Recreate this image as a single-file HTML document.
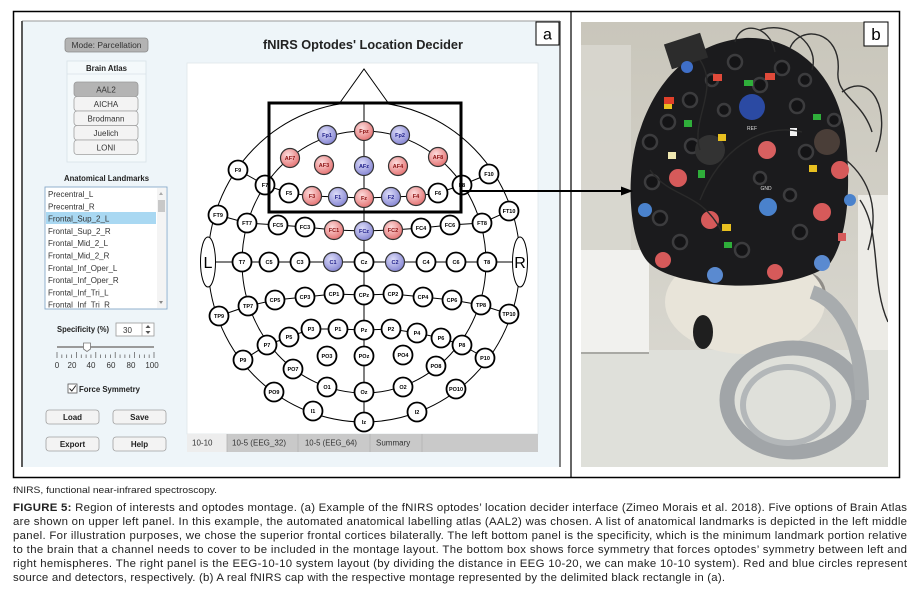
<!DOCTYPE html>
<html><head><meta charset="utf-8">
<style>
html,body{margin:0;padding:0;background:#fff;}
svg{display:block;}
text{font-family:"Liberation Sans",Arial,sans-serif;}
.w{fill:#fff;stroke:#000;stroke-width:1.8}
.r{fill:url(#gr);stroke:#333;stroke-width:1.2}
.b{fill:url(#gb);stroke:#333;stroke-width:1.2}
.nl{font-size:5.5px;font-weight:bold;text-anchor:middle;fill:#000}
.nr{font-size:5.5px;font-weight:bold;text-anchor:middle;fill:#8a1010}
.nb{font-size:5.5px;font-weight:bold;text-anchor:middle;fill:#1e1e88}
.ui{font-size:8px;fill:#333}
.uib{font-size:8px;fill:#222;font-weight:bold}
.ln{stroke:#000;stroke-width:1;fill:none}
.btn{fill:#f3f3f3;stroke:#a0a0a0;stroke-width:0.8}
.ring{fill:#141416;stroke:#3c3c3e;stroke-width:2.5}
.cab{stroke:#2a2a2a;stroke-width:1.4;fill:none}
</style></head><body>
<svg width="917" height="602" viewBox="0 0 917 602" xmlns="http://www.w3.org/2000/svg">
<defs>
<radialGradient id="gr" cx="0.4" cy="0.35" r="0.7"><stop offset="0" stop-color="#fcdcdc"/><stop offset="1" stop-color="#e46e6e"/></radialGradient>
<radialGradient id="gb" cx="0.4" cy="0.35" r="0.7"><stop offset="0" stop-color="#dcdcf8"/><stop offset="1" stop-color="#8282d2"/></radialGradient>
<linearGradient id="wall" x1="0" y1="0" x2="0" y2="1"><stop offset="0" stop-color="#c9c6bb"/><stop offset="0.5" stop-color="#d3d1c8"/><stop offset="1" stop-color="#dddcd6"/></linearGradient>
<clipPath id="photo"><rect x="581" y="22" width="307" height="445"/></clipPath>
<clipPath id="list"><rect x="46" y="188" width="120" height="120"/></clipPath>
</defs>

<rect x="13.5" y="11.5" width="886" height="466" fill="#fff" stroke="#000" stroke-width="1.5"/>
<line x1="571" y1="11" x2="571" y2="477" stroke="#000" stroke-width="1.2"/>

<rect x="22" y="21" width="538" height="446" fill="#eef5f9"/>
<line x1="22" y1="21" x2="560" y2="21" stroke="#9a9a9a" stroke-width="1"/>
<line x1="22" y1="21" x2="22" y2="467" stroke="#5a5a5a" stroke-width="2"/>
<line x1="560" y1="21" x2="560" y2="467" stroke="#5a5a5a" stroke-width="1.5"/>

<rect x="536" y="22" width="23" height="23" fill="#fff" stroke="#000" stroke-width="1"/>
<text x="547.5" y="39.5" font-size="16" text-anchor="middle" fill="#000">a</text>

<rect x="65" y="38" width="83" height="14" rx="3" fill="#b3b3b3" stroke="#8a8a8a" stroke-width="0.8"/>
<text x="106.5" y="48" class="ui" text-anchor="middle" textLength="70" lengthAdjust="spacingAndGlyphs">Mode: Parcellation</text>

<rect x="67" y="61" width="79" height="101" fill="#f4f9fb" stroke="#d8e2e8" stroke-width="0.8"/>
<text x="106.5" y="71" class="uib" text-anchor="middle" textLength="41" lengthAdjust="spacingAndGlyphs">Brain Atlas</text>
<line x1="67" y1="74" x2="146" y2="74" stroke="#d8e2e8" stroke-width="0.8"/>
<rect x="74" y="82" width="64" height="14.5" rx="3" fill="#b4b4b4" stroke="#999" stroke-width="0.8"/>
<text x="106" y="92.5" class="ui" text-anchor="middle">AAL2</text>
<rect x="74" y="96.5" width="64" height="14.5" rx="3" class="btn"/>
<text x="106" y="107" class="ui" text-anchor="middle">AICHA</text>
<rect x="74" y="111" width="64" height="14.5" rx="3" class="btn"/>
<text x="106" y="121.5" class="ui" text-anchor="middle">Brodmann</text>
<rect x="74" y="125.5" width="64" height="14.5" rx="3" class="btn"/>
<text x="106" y="136" class="ui" text-anchor="middle">Juelich</text>
<rect x="74" y="140" width="64" height="14.5" rx="3" class="btn"/>
<text x="106" y="150.5" class="ui" text-anchor="middle">LONI</text>

<text x="106.5" y="181" class="uib" text-anchor="middle" textLength="85" lengthAdjust="spacingAndGlyphs">Anatomical Landmarks</text>
<rect x="45" y="187" width="122" height="122" fill="#fff" stroke="#86a9c8" stroke-width="0.9"/>
<rect x="46" y="212" width="110" height="12" fill="#a9d8f2"/>
<g clip-path="url(#list)">
<text x="48" y="197" class="ui">Precentral_L</text>
<text x="48" y="209.3" class="ui">Precentral_R</text>
<text x="48" y="221.5" class="ui">Frontal_Sup_2_L</text>
<text x="48" y="233.8" class="ui">Frontal_Sup_2_R</text>
<text x="48" y="246.2" class="ui">Frontal_Mid_2_L</text>
<text x="48" y="258.5" class="ui">Frontal_Mid_2_R</text>
<text x="48" y="270.8" class="ui">Frontal_Inf_Oper_L</text>
<text x="48" y="283" class="ui">Frontal_Inf_Oper_R</text>
<text x="48" y="295.3" class="ui">Frontal_Inf_Tri_L</text>
<text x="48" y="307.6" class="ui">Frontal_Inf_Tri_R</text>
</g>
<rect x="157" y="188" width="9" height="120" fill="#f4f4f4"/>
<polygon points="159,195 163,195 161,192" fill="#aaa"/>
<rect x="158" y="200" width="7" height="12" fill="#c8c8c8"/>
<polygon points="159,301 163,301 161,304" fill="#888"/>

<text x="57" y="332" class="uib" textLength="52" lengthAdjust="spacingAndGlyphs">Specificity (%)</text>
<rect x="116" y="323" width="38" height="13" fill="#fff" stroke="#999" stroke-width="0.8"/>
<text x="123" y="333" class="ui">30</text>
<line x1="142" y1="323" x2="142" y2="336" stroke="#aaa" stroke-width="0.8"/>
<polygon points="145.5,328 150.5,328 148,325" fill="#555"/>
<polygon points="145.5,331 150.5,331 148,334" fill="#555"/>

<line x1="57" y1="347" x2="154" y2="347" stroke="#9a9a9a" stroke-width="2"/>
<polygon points="83.5,343 90.5,343 90.5,349 87,351.5 83.5,349" fill="#fff" stroke="#777" stroke-width="0.8"/>
<g stroke="#555" stroke-width="0.7">
<line x1="57" y1="352" x2="57" y2="358"/><line x1="61.85" y1="354.5" x2="61.85" y2="358"/><line x1="66.7" y1="354.5" x2="66.7" y2="358"/><line x1="71.55" y1="354.5" x2="71.55" y2="358"/>
<line x1="76.4" y1="352" x2="76.4" y2="358"/><line x1="81.25" y1="354.5" x2="81.25" y2="358"/><line x1="86.1" y1="354.5" x2="86.1" y2="358"/><line x1="90.95" y1="354.5" x2="90.95" y2="358"/>
<line x1="95.8" y1="352" x2="95.8" y2="358"/><line x1="100.65" y1="354.5" x2="100.65" y2="358"/><line x1="105.5" y1="354.5" x2="105.5" y2="358"/><line x1="110.35" y1="354.5" x2="110.35" y2="358"/>
<line x1="115.2" y1="352" x2="115.2" y2="358"/><line x1="120.05" y1="354.5" x2="120.05" y2="358"/><line x1="124.9" y1="354.5" x2="124.9" y2="358"/><line x1="129.75" y1="354.5" x2="129.75" y2="358"/>
<line x1="134.6" y1="352" x2="134.6" y2="358"/><line x1="139.45" y1="354.5" x2="139.45" y2="358"/><line x1="144.3" y1="354.5" x2="144.3" y2="358"/><line x1="149.15" y1="354.5" x2="149.15" y2="358"/>
<line x1="154" y1="352" x2="154" y2="358"/>
</g>
<text x="57" y="368" class="ui" text-anchor="middle">0</text>
<text x="72" y="368" class="ui" text-anchor="middle">20</text>
<text x="91" y="368" class="ui" text-anchor="middle">40</text>
<text x="111" y="368" class="ui" text-anchor="middle">60</text>
<text x="131" y="368" class="ui" text-anchor="middle">80</text>
<text x="152" y="368" class="ui" text-anchor="middle">100</text>

<rect x="68" y="384" width="9" height="9" fill="#fff" stroke="#555" stroke-width="0.8"/>
<path d="M69.5 388.5 L71.8 391 L75.8 385.5" stroke="#222" stroke-width="1" fill="none"/>
<text x="79" y="392" class="uib" textLength="61" lengthAdjust="spacingAndGlyphs" font-weight="normal">Force Symmetry</text>

<rect x="46" y="410" width="53" height="14" rx="3" class="btn"/>
<text x="72.5" y="420" class="uib" text-anchor="middle">Load</text>
<rect x="113" y="410" width="53" height="14" rx="3" class="btn"/>
<text x="139.5" y="420" class="uib" text-anchor="middle">Save</text>
<rect x="46" y="437" width="53" height="14" rx="3" class="btn"/>
<text x="72.5" y="447" class="uib" text-anchor="middle">Export</text>
<rect x="113" y="437" width="53" height="14" rx="3" class="btn"/>
<text x="139.5" y="447" class="uib" text-anchor="middle">Help</text>

<text x="363" y="49" font-size="13" font-weight="bold" text-anchor="middle" fill="#222" textLength="200" lengthAdjust="spacingAndGlyphs">fNIRS Optodes' Location Decider</text>

<rect x="187" y="63" width="351" height="371" fill="#fff" stroke="#e0e6ea" stroke-width="0.8"/>
<rect x="187" y="434" width="351" height="18" fill="#c9c9c9"/>
<rect x="187" y="434" width="40" height="18" fill="#ededed"/>
<g stroke="#b2b2b2" stroke-width="0.8"><line x1="227" y1="434" x2="227" y2="452"/><line x1="298" y1="434" x2="298" y2="452"/><line x1="370" y1="434" x2="370" y2="452"/><line x1="422" y1="434" x2="422" y2="452"/></g>
<text x="192" y="445.5" class="ui" fill="#444">10-10</text>
<text x="232" y="445.5" class="ui" textLength="54" lengthAdjust="spacingAndGlyphs">10-5 (EEG_32)</text>
<text x="305" y="445.5" class="ui" textLength="52" lengthAdjust="spacingAndGlyphs">10-5 (EEG_64)</text>
<text x="376" y="445.5" class="ui">Summary</text>

<polyline points="339,104 364,69 389,104" class="ln"/>
<ellipse cx="364" cy="262" rx="156" ry="160" class="ln"/>
<ellipse cx="364" cy="262" rx="122" ry="131" class="ln"/>
<line x1="364" y1="102" x2="364" y2="422" class="ln"/>
<line x1="214" y1="262" x2="514" y2="262" class="ln"/>
<polyline class="ln" points="238,170 265,185 289,193 312,196 338,197 364,198 391,197 416,196 438,193 462,185 489,174"/>
<polyline class="ln" points="218,215 247,223 278,225 305,227 334,230 364,231 393,230 421,228 450,225 482,223 509,211"/>
<polyline class="ln" points="219,316 248,306 275,300 305,297 334,294 364,295 393,294 423,297 452,300 481,305 509,314"/>
<polyline class="ln" points="243,360 267,345 289,337 311,329 338,329 364,330 391,329 417,333 441,338 462,345 485,358"/>

<ellipse cx="208" cy="262" rx="7.5" ry="25" fill="#fff" stroke="#000" stroke-width="1"/>
<text x="208" y="268" font-size="16" text-anchor="middle" fill="#000">L</text>
<ellipse cx="520" cy="262" rx="7.5" ry="25" fill="#fff" stroke="#000" stroke-width="1"/>
<text x="520" y="268" font-size="16" text-anchor="middle" fill="#000">R</text>

<g>
<circle cx="327" cy="135" r="9.5" class="b"/><text x="327" y="137" class="nb">Fp1</text>
<circle cx="364" cy="131" r="9.5" class="r"/><text x="364" y="133" class="nr">Fpz</text>
<circle cx="400" cy="135" r="9.5" class="b"/><text x="400" y="137" class="nb">Fp2</text>
<circle cx="290" cy="158" r="9.5" class="r"/><text x="290" y="160" class="nr">AF7</text>
<circle cx="324" cy="165" r="9.5" class="r"/><text x="324" y="167" class="nr">AF3</text>
<circle cx="364" cy="166" r="9.5" class="b"/><text x="364" y="168" class="nb">AFz</text>
<circle cx="398" cy="166" r="9.5" class="r"/><text x="398" y="168" class="nr">AF4</text>
<circle cx="438" cy="157" r="9.5" class="r"/><text x="438" y="159" class="nr">AF8</text>
<circle cx="238" cy="170" r="9.5" class="w"/><text x="238" y="172" class="nl">F9</text>
<circle cx="265" cy="185" r="9.5" class="w"/><text x="265" y="187" class="nl">F7</text>
<circle cx="289" cy="193" r="9.5" class="w"/><text x="289" y="195" class="nl">F5</text>
<circle cx="312" cy="196" r="9.5" class="r"/><text x="312" y="198" class="nr">F3</text>
<circle cx="338" cy="197" r="9.5" class="b"/><text x="338" y="199" class="nb">F1</text>
<circle cx="364" cy="198" r="9.5" class="r"/><text x="364" y="200" class="nr">Fz</text>
<circle cx="391" cy="197" r="9.5" class="b"/><text x="391" y="199" class="nb">F2</text>
<circle cx="416" cy="196" r="9.5" class="r"/><text x="416" y="198" class="nr">F4</text>
<circle cx="438" cy="193" r="9.5" class="w"/><text x="438" y="195" class="nl">F6</text>
<circle cx="462" cy="185" r="9.5" class="w"/><text x="462" y="187" class="nl">F8</text>
<circle cx="489" cy="174" r="9.5" class="w"/><text x="489" y="176" class="nl">F10</text>
<circle cx="218" cy="215" r="9.5" class="w"/><text x="218" y="217" class="nl">FT9</text>
<circle cx="247" cy="223" r="9.5" class="w"/><text x="247" y="225" class="nl">FT7</text>
<circle cx="278" cy="225" r="9.5" class="w"/><text x="278" y="227" class="nl">FC5</text>
<circle cx="305" cy="227" r="9.5" class="w"/><text x="305" y="229" class="nl">FC3</text>
<circle cx="334" cy="230" r="9.5" class="r"/><text x="334" y="232" class="nr">FC1</text>
<circle cx="364" cy="231" r="9.5" class="b"/><text x="364" y="233" class="nb">FCz</text>
<circle cx="393" cy="230" r="9.5" class="r"/><text x="393" y="232" class="nr">FC2</text>
<circle cx="421" cy="228" r="9.5" class="w"/><text x="421" y="230" class="nl">FC4</text>
<circle cx="450" cy="225" r="9.5" class="w"/><text x="450" y="227" class="nl">FC6</text>
<circle cx="482" cy="223" r="9.5" class="w"/><text x="482" y="225" class="nl">FT8</text>
<circle cx="509" cy="211" r="9.5" class="w"/><text x="509" y="213" class="nl">FT10</text>
<circle cx="242" cy="262" r="9.5" class="w"/><text x="242" y="264" class="nl">T7</text>
<circle cx="269" cy="262" r="9.5" class="w"/><text x="269" y="264" class="nl">C5</text>
<circle cx="300" cy="262" r="9.5" class="w"/><text x="300" y="264" class="nl">C3</text>
<circle cx="333" cy="262" r="9.5" class="b"/><text x="333" y="264" class="nb">C1</text>
<circle cx="364" cy="262" r="9.5" class="w"/><text x="364" y="264" class="nl">Cz</text>
<circle cx="395" cy="262" r="9.5" class="b"/><text x="395" y="264" class="nb">C2</text>
<circle cx="426" cy="262" r="9.5" class="w"/><text x="426" y="264" class="nl">C4</text>
<circle cx="456" cy="262" r="9.5" class="w"/><text x="456" y="264" class="nl">C6</text>
<circle cx="487" cy="262" r="9.5" class="w"/><text x="487" y="264" class="nl">T8</text>
<circle cx="219" cy="316" r="9.5" class="w"/><text x="219" y="318" class="nl">TP9</text>
<circle cx="248" cy="306" r="9.5" class="w"/><text x="248" y="308" class="nl">TP7</text>
<circle cx="275" cy="300" r="9.5" class="w"/><text x="275" y="302" class="nl">CP5</text>
<circle cx="305" cy="297" r="9.5" class="w"/><text x="305" y="299" class="nl">CP3</text>
<circle cx="334" cy="294" r="9.5" class="w"/><text x="334" y="296" class="nl">CP1</text>
<circle cx="364" cy="295" r="9.5" class="w"/><text x="364" y="297" class="nl">CPz</text>
<circle cx="393" cy="294" r="9.5" class="w"/><text x="393" y="296" class="nl">CP2</text>
<circle cx="423" cy="297" r="9.5" class="w"/><text x="423" y="299" class="nl">CP4</text>
<circle cx="452" cy="300" r="9.5" class="w"/><text x="452" y="302" class="nl">CP6</text>
<circle cx="481" cy="305" r="9.5" class="w"/><text x="481" y="307" class="nl">TP8</text>
<circle cx="509" cy="314" r="9.5" class="w"/><text x="509" y="316" class="nl">TP10</text>
<circle cx="243" cy="360" r="9.5" class="w"/><text x="243" y="362" class="nl">P9</text>
<circle cx="267" cy="345" r="9.5" class="w"/><text x="267" y="347" class="nl">P7</text>
<circle cx="289" cy="337" r="9.5" class="w"/><text x="289" y="339" class="nl">P5</text>
<circle cx="311" cy="329" r="9.5" class="w"/><text x="311" y="331" class="nl">P3</text>
<circle cx="338" cy="329" r="9.5" class="w"/><text x="338" y="331" class="nl">P1</text>
<circle cx="364" cy="330" r="9.5" class="w"/><text x="364" y="332" class="nl">Pz</text>
<circle cx="391" cy="329" r="9.5" class="w"/><text x="391" y="331" class="nl">P2</text>
<circle cx="417" cy="333" r="9.5" class="w"/><text x="417" y="335" class="nl">P4</text>
<circle cx="441" cy="338" r="9.5" class="w"/><text x="441" y="340" class="nl">P6</text>
<circle cx="462" cy="345" r="9.5" class="w"/><text x="462" y="347" class="nl">P8</text>
<circle cx="485" cy="358" r="9.5" class="w"/><text x="485" y="360" class="nl">P10</text>
<circle cx="274" cy="392" r="9.5" class="w"/><text x="274" y="394" class="nl">PO9</text>
<circle cx="293" cy="369" r="9.5" class="w"/><text x="293" y="371" class="nl">PO7</text>
<circle cx="327" cy="356" r="9.5" class="w"/><text x="327" y="358" class="nl">PO3</text>
<circle cx="364" cy="356" r="9.5" class="w"/><text x="364" y="358" class="nl">POz</text>
<circle cx="403" cy="355" r="9.5" class="w"/><text x="403" y="357" class="nl">PO4</text>
<circle cx="436" cy="366" r="9.5" class="w"/><text x="436" y="368" class="nl">PO8</text>
<circle cx="456" cy="389" r="9.5" class="w"/><text x="456" y="391" class="nl">PO10</text>
<circle cx="327" cy="387" r="9.5" class="w"/><text x="327" y="389" class="nl">O1</text>
<circle cx="364" cy="392" r="9.5" class="w"/><text x="364" y="394" class="nl">Oz</text>
<circle cx="403" cy="387" r="9.5" class="w"/><text x="403" y="389" class="nl">O2</text>
<circle cx="313" cy="411" r="9.5" class="w"/><text x="313" y="413" class="nl">I1</text>
<circle cx="364" cy="422" r="9.5" class="w"/><text x="364" y="424" class="nl">Iz</text>
<circle cx="417" cy="412" r="9.5" class="w"/><text x="417" y="414" class="nl">I2</text>
</g>

<rect x="269" y="103" width="192" height="109" fill="none" stroke="#000" stroke-width="3"/>

<g clip-path="url(#photo)">
<rect x="581" y="22" width="307" height="445" fill="url(#wall)"/>
<rect x="581" y="45" width="50" height="205" fill="#dad8d1" opacity="0.8"/>
<rect x="858" y="195" width="30" height="155" fill="#ecebe6"/>
<rect x="581" y="350" width="307" height="117" fill="#dfe0da"/>
<rect x="581" y="250" width="68" height="104" fill="#f1f1ee"/>
<line x1="581" y1="353" x2="649" y2="353" stroke="#a9a9a4" stroke-width="2"/>
<ellipse cx="808" cy="295" rx="18" ry="22" fill="#8f8c87"/>
<ellipse cx="745" cy="302" rx="80" ry="52" fill="#e8e4d9"/>
<ellipse cx="703" cy="332" rx="10" ry="17" fill="#1f1f1f"/>
<ellipse cx="793" cy="400" rx="66" ry="52" fill="none" stroke="#a1a5a8" stroke-width="15"/>
<ellipse cx="788" cy="405" rx="45" ry="38" fill="none" stroke="#b3b7b9" stroke-width="6"/>
<path d="M812 292 C 842 302, 862 342, 862 400" stroke="#a8acae" stroke-width="14" fill="none"/>
<path d="M648 262 C 628 240 625 170 640 130 C 660 70 700 42 745 38 C 800 36 840 80 846 140 C 852 200 845 245 828 266 C 800 285 740 290 700 282 C 675 278 658 272 648 262 Z" fill="#1b1b1d"/>
<rect x="667" y="38" width="38" height="26" fill="#2c2c2c" transform="rotate(-18 686 51)"/>
<g>
<circle cx="735" cy="62" r="7" class="ring"/><circle cx="782" cy="68" r="7" class="ring"/><circle cx="805" cy="80" r="6" class="ring"/>
<circle cx="650" cy="142" r="7" class="ring"/><circle cx="668" cy="122" r="7" class="ring"/><circle cx="692" cy="146" r="7" class="ring"/>
<circle cx="652" cy="182" r="7" class="ring"/><circle cx="660" cy="218" r="7" class="ring"/><circle cx="797" cy="106" r="7" class="ring"/>
<circle cx="806" cy="152" r="7" class="ring"/><circle cx="834" cy="120" r="6" class="ring"/><circle cx="690" cy="100" r="7" class="ring"/>
<circle cx="724" cy="110" r="6" class="ring"/><circle cx="760" cy="178" r="6" class="ring"/><circle cx="790" cy="195" r="6" class="ring"/>
<circle cx="742" cy="250" r="7" class="ring"/><circle cx="680" cy="242" r="7" class="ring"/><circle cx="800" cy="232" r="7" class="ring"/>
<circle cx="760" cy="85" r="7" class="ring"/><circle cx="712" cy="80" r="6" class="ring"/>
</g>
<circle cx="710" cy="150" r="15" fill="#333"/>
<circle cx="827" cy="142" r="13" fill="#4a3e38"/>
<circle cx="752" cy="107" r="13" fill="#2b4aa3"/>
<text x="752" y="130" font-size="5" fill="#ddd" text-anchor="middle">REF</text>
<text x="766" y="190" font-size="5" fill="#ddd" text-anchor="middle">GND</text>
<circle cx="687" cy="67" r="6" fill="#3f6fc8"/>
<circle cx="767" cy="150" r="9" fill="#d86060"/>
<circle cx="678" cy="178" r="9" fill="#d65a5a"/>
<circle cx="840" cy="170" r="9" fill="#d65a5a"/>
<circle cx="768" cy="207" r="9" fill="#4a82cc"/>
<circle cx="645" cy="210" r="7" fill="#4a82cc"/>
<circle cx="710" cy="220" r="9" fill="#d65a5a"/>
<circle cx="822" cy="212" r="9" fill="#d65a5a"/>
<circle cx="850" cy="200" r="6" fill="#4a82cc"/>
<circle cx="663" cy="260" r="8" fill="#d65a5a"/>
<circle cx="715" cy="275" r="8" fill="#5a8ad0"/>
<circle cx="775" cy="272" r="8" fill="#d65a5a"/>
<circle cx="822" cy="263" r="8" fill="#5a8ad0"/>
<rect x="713" y="74" width="9" height="7" fill="#e04a3a"/>
<rect x="765" y="73" width="10" height="7" fill="#e04a3a"/>
<rect x="744" y="80" width="9" height="6" fill="#2fae3a"/>
<rect x="664" y="97" width="10" height="7" fill="#e0402a"/>
<rect x="664" y="104" width="8" height="5" fill="#e8c020"/>
<rect x="684" y="120" width="8" height="7" fill="#2fae3a"/>
<rect x="718" y="134" width="8" height="7" fill="#e8c020"/>
<rect x="668" y="152" width="8" height="7" fill="#efe7b0"/>
<rect x="809" y="165" width="8" height="7" fill="#e8c020"/>
<rect x="698" y="170" width="7" height="8" fill="#2fae3a"/>
<rect x="813" y="114" width="8" height="6" fill="#2fae3a"/>
<rect x="790" y="128" width="7" height="8" fill="#f2f2f2"/>
<rect x="722" y="224" width="9" height="7" fill="#e8c020"/>
<rect x="724" y="242" width="8" height="6" fill="#2fae3a"/>
<rect x="838" y="233" width="8" height="8" fill="#d65a5a"/>
<path class="cab" d="M735 42 C 740 20 770 25 775 52"/>
<path class="cab" d="M790 48 C 800 24 842 30 838 72 C 836 96 862 100 872 132"/>
<path class="cab" d="M842 92 C 872 70 892 112 876 152"/>
<path class="cab" d="M860 200 C 882 232 870 282 888 322"/>
<path class="cab" d="M700 200 C 720 150 760 122 802 132"/>
<path class="cab" d="M650 170 C 672 200 700 190 722 232"/>
<path class="cab" d="M760 30 C 790 20 820 45 812 70"/>
<path class="cab" d="M846 160 C 870 180 880 210 868 250"/>
<path class="cab" d="M700 60 C 720 90 690 120 700 150"/>
</g>
<rect x="864" y="22" width="24" height="24" fill="#fff" stroke="#000" stroke-width="1"/>
<text x="876" y="40" font-size="17" text-anchor="middle" fill="#000">b</text>

<line x1="461" y1="191" x2="624" y2="191" stroke="#000" stroke-width="2"/>
<polygon points="621,186.5 633,191 621,195.5" fill="#000"/>

<text x="13" y="493" font-size="9.5" fill="#222" textLength="204" lengthAdjust="spacingAndGlyphs">fNIRS, functional near-infrared spectroscopy.</text>
<g font-size="11.4" fill="#222">
<text x="13" y="511" textLength="894" lengthAdjust="spacing"><tspan font-weight="bold">FIGURE 5:</tspan> Region of interests and optodes montage. (a) Example of the fNIRS optodes’ location decider interface (Zimeo Morais et al. 2018). Five options of Brain Atlas</text>
<text x="13" y="525" textLength="894" lengthAdjust="spacing">are shown on upper left panel. In this example, the automated anatomical labelling atlas (AAL2) was chosen. A list of anatomical landmarks is depicted in the left middle</text>
<text x="13" y="539" textLength="894" lengthAdjust="spacing">panel. For illustration purposes, we chose the superior frontal cortices bilaterally. The left bottom panel is the specificity, which is the minimum landmark portion relative</text>
<text x="13" y="553" textLength="894" lengthAdjust="spacing">to the brain that a channel needs to cover to be included in the montage layout. The bottom box shows force symmetry that forces optodes’ symmetry between left and</text>
<text x="13" y="567" textLength="894" lengthAdjust="spacing">right hemispheres. The right panel is the EEG-10-10 system layout (by dividing the distance in EEG 10-20, we can make 10-10 system). Red and blue circles represent</text>
<text x="13" y="581" textLength="712" lengthAdjust="spacing">source and detectors, respectively. (b) A real fNIRS cap with the respective montage represented by the delimited black rectangle in (a).</text>
</g>
</svg>
</body></html>
